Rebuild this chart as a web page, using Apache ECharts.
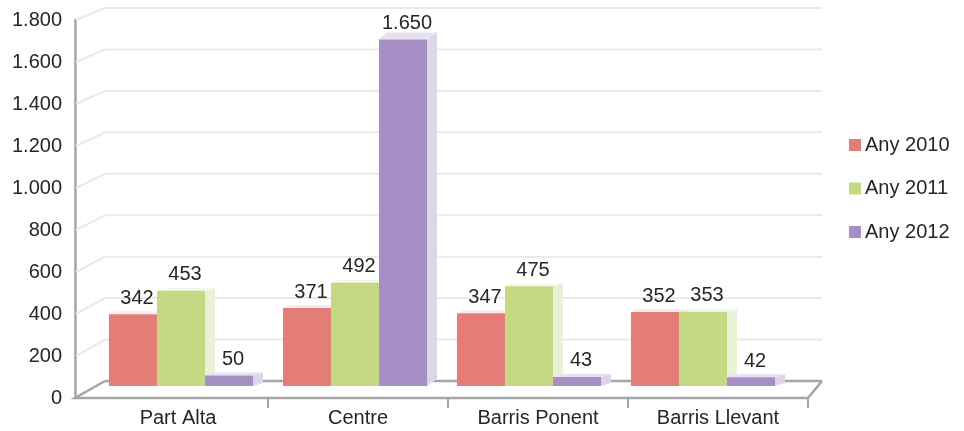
<!DOCTYPE html>
<html>
<head>
<meta charset="utf-8">
<script src="https://cdn.jsdelivr.net/npm/echarts@6/dist/echarts.min.js"></script>
<style>
html,body{margin:0;padding:0;background:#fff;}
#chart{width:964px;height:431px;}
</style>
</head>
<body>
<div id="chart"></div>
<script>
// ---- data ----
const categories = ['Part Alta', 'Centre', 'Barris Ponent', 'Barris Llevant'];
const seriesNames = ['Any 2010', 'Any 2011', 'Any 2012'];
const values2010 = [342, 371, 347, 352];
const values2011 = [453, 492, 475, 353];
const values2012 = [50, 1650, 43, 42];
const yMin = 0, yMax = 1800, yStep = 200;
const yTickValues = [0, 200, 400, 600, 800, 1000, 1200, 1400, 1600, 1800];

// ---- style ----
const FONT = 'Liberation Sans, Arial, sans-serif';
const FS = 20;
const TXT = '#262626';
const frontColors = ['#E47C78', '#C4D982', '#A68FC5'];
const sideColors = ['#F0BDBB', '#E9F2D6', '#DDD5EA'];
const topColors = ['#FBEAEA', '#F3F8E8', '#E6E0EF'];
const AXIS_GRAY = '#A6A6A6';
const GRID_GRAY = '#E9E9E9';
const DEPTH_X = 30, DEPTH_Y = 17;      // wall/floor depth
const BAR_DX = 10, BAR_DY = -3;         // bar side depth
const AXIS_OFFSET = 13;

function fmt(v) { return String(v).replace(/\B(?=(\d{3})+(?!\d))/g, '.'); }

const chart = echarts.init(document.getElementById('chart'), null, {renderer: 'canvas'});

function frameRender(params, api) {
  const cs = params.coordSys;
  const v = api.value(1);
  const p = api.coord([0, v]);
  const y0 = api.coord([0, yMin])[1];
  const yTop = api.coord([0, yMax])[1];
  const y0b = y0 - DEPTH_Y;
  const yTopB = yTop - 12;
  const k = (yTopB - y0b) / (yTop - y0);
  const fx = cs.x - AXIS_OFFSET;
  const bx = fx + DEPTH_X;
  const rx = cs.x + cs.width;
  const rbx = rx + 14;
  const yb = y0b + (p[1] - y0) * k;
  const children = [];
  if (params.dataIndex === 0) {
    const bandW = api.size([1, 0])[0];
    children.push({type: 'polyline', shape: {points: [[bx, y0b], [rbx, y0b]]}, style: {stroke: AXIS_GRAY, lineWidth: 2.5, fill: null}});
    children.push({type: 'polyline', shape: {points: [[bx, y0b], [fx, y0], [rx, y0], [rbx, y0b]]}, style: {stroke: AXIS_GRAY, lineWidth: 2.5, fill: null}});
    for (let i = 0; i < categories.length; i++) {
      const tx = Math.round(api.coord([i, 0])[0] + bandW / 2);
      children.push({type: 'line', shape: {x1: tx, y1: y0, x2: tx, y2: y0 + 10}, style: {stroke: AXIS_GRAY, lineWidth: 2}});
    }
  } else {
    children.push({type: 'polyline', shape: {points: [[fx + 1, p[1]], [bx, yb], [rbx, yb]]}, style: {stroke: GRID_GRAY, lineWidth: 2, fill: null}});
  }
  return {type: 'group', children: children};
}

function barRender(sIdx) {
  return function (params, api) {
    const cat = api.value(0), v = api.value(1);
    const base = api.coord([cat, 0]);
    const top = api.coord([cat, v]);
    const bandW = api.size([1, 0])[0];
    const w = bandW * 0.276;
    const x0 = base[0] - 1.5 * w + sIdx * w;
    const x1 = x0 + w;
    const yT = top[1], yB = base[1];
    const dy = sIdx === 2 && v > 1000 ? -7 : BAR_DY;
    return {
      type: 'group',
      children: [
        {type: 'polygon', shape: {points: [[x1, yT], [x1 + BAR_DX, yT + dy], [x1 + BAR_DX, yB + dy], [x1, yB]]}, style: {fill: sideColors[sIdx]}},
        {type: 'polygon', shape: {points: [[x0, yT], [x0 + BAR_DX * 0.7, yT + dy], [x1 + BAR_DX, yT + dy], [x1, yT]]}, style: {fill: topColors[sIdx]}},
        {type: 'rect', shape: {x: x0, y: yT, width: w, height: yB - yT}, style: {fill: frontColors[sIdx]}},
        {type: 'text', z2: 100, style: {text: fmt(v), x: x0 + w / 2 + 4, y: yT + BAR_DY - 3, align: 'center', verticalAlign: 'bottom', fill: TXT, font: FS + 'px ' + FONT}}
      ]
    };
  };
}

const seriesData = [values2010, values2011, values2012];
const barSeries = seriesNames.map((name, i) => ({
  type: 'custom',
  name: name,
  xAxisIndex: 1,
  yAxisIndex: 1,
  renderItem: barRender(i),
  itemStyle: {color: frontColors[i]},
  encode: {x: 0, y: 1},
  data: seriesData[i].map((v, c) => [c, v]),
  silent: true
}));

const option = {
  animation: false,
  backgroundColor: '#ffffff',
  textStyle: {fontFamily: FONT},
  legend: {
    orient: 'vertical',
    left: 844,
    top: 130,
    icon: 'rect',
    itemWidth: 12,
    itemHeight: 12,
    itemGap: 23.5,
    data: seriesNames,
    textStyle: {color: TXT, fontSize: FS, fontFamily: FONT, padding: [0, 0, 0, -1]}
  },
  grid: [
    {left: 88, width: 720, top: 20, height: 378},
    {left: 94, width: 696, top: 8, height: 378}
  ],
  xAxis: [
    {type: 'category', gridIndex: 0, data: categories, axisLine: {show: false}, axisTick: {show: false},
     axisLabel: {color: TXT, fontSize: FS, fontFamily: FONT, margin: 10}},
    {type: 'category', gridIndex: 1, data: categories, show: false}
  ],
  yAxis: [
    {type: 'value', gridIndex: 0, min: yMin, max: yMax, interval: yStep, offset: AXIS_OFFSET,
     axisLine: {show: true, lineStyle: {color: AXIS_GRAY, width: 2.5}}, axisTick: {show: false},
     splitLine: {show: false},
     axisLabel: {color: TXT, fontSize: FS, fontFamily: FONT, margin: 13, formatter: v => fmt(v)}},
    {type: 'value', gridIndex: 1, min: yMin, max: yMax, interval: yStep, show: false}
  ],
  series: [
    {
      type: 'custom',
      name: 'frame',
      xAxisIndex: 0,
      yAxisIndex: 0,
      renderItem: frameRender,
      encode: {x: 0, y: 1},
      data: yTickValues.map(v => [0, v]),
      silent: true,
      z: 1
    }
  ].concat(barSeries)
};
chart.setOption(option);
</script>
</body>
</html>
